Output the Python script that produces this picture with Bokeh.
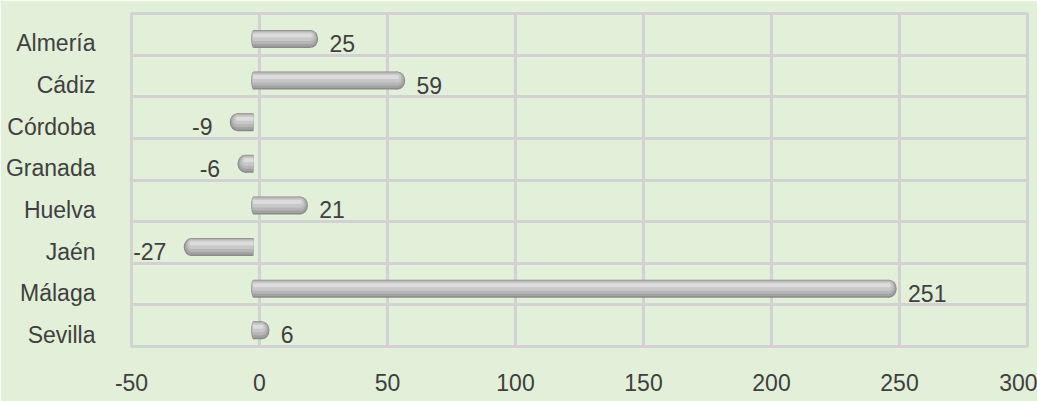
from bokeh.plotting import figure
from bokeh.models import ColumnDataSource, Range1d, FixedTicker
from bokeh.core.properties import value
from bokeh.transform import dodge
from bokeh.embed import file_html
from bokeh.resources import INLINE

categories = ["Almería", "Cádiz", "Córdoba", "Granada", "Huelva", "Jaén", "Málaga", "Sevilla"]
values = [25, 59, -9, -6, 21, -27, 251, 6]
x_ticks = [-50, 0, 50, 100, 150, 200, 250, 300]

FONT = "Liberation Sans"
TXT = "#404040"
BG = "#e2efd9"
GRID = "#d2d2d2"

W, H = 1037, 401
BL, BR, BT, BB = 131, 10, 13, 55
xmin, xmax = -50, 300
upp = (xmax - xmin) / (W - BL - BR)  # data units per pixel
row_px = (H - BT - BB) / len(categories)

p = figure(width=W, height=H, output_backend="svg", toolbar_location=None,
           x_range=Range1d(xmin, xmax), y_range=Range1d(len(categories), 0),
           min_border_left=BL, min_border_right=BR, min_border_top=BT, min_border_bottom=BB)
p.background_fill_color = BG
p.border_fill_color = BG
p.outline_line_color = GRID
p.outline_line_width = 3

# grids
p.xgrid.ticker = FixedTicker(ticks=x_ticks)
p.xgrid.grid_line_color = GRID
p.xgrid.grid_line_width = 3
p.ygrid.ticker = FixedTicker(ticks=list(range(len(categories) + 1)))
p.ygrid.grid_line_color = GRID
p.ygrid.grid_line_width = 3

# axes
label_pos = [i + 0.72 for i in range(len(categories))]
p.xaxis.ticker = FixedTicker(ticks=x_ticks)
p.xaxis.major_label_overrides = {t: str(t) for t in x_ticks}
p.yaxis.ticker = FixedTicker(ticks=label_pos)
p.yaxis.major_label_overrides = {pos: c for pos, c in zip(label_pos, categories)}
for ax in (p.xaxis[0], p.yaxis[0]):
    ax.axis_line_color = None
    ax.major_tick_line_color = None
    ax.minor_tick_line_color = None
    ax.major_tick_out = 0
    ax.major_tick_in = 0
    ax.major_label_text_font = FONT
    ax.major_label_text_font_size = "23px"
    ax.major_label_text_color = TXT
p.xaxis.major_label_standoff = 27
p.yaxis.major_label_standoff = 36

# bar geometry derived from the data
shift = -6 * upp           # 3D depth offset
cap_half = 7 * upp
ys, lefts, rights, capx, lx, ly, txt, align, xoff = [], [], [], [], [], [], [], [], []
for i, v in enumerate(values):
    s = 1 if v >= 0 else -1
    end = v + shift
    start = 0 + shift
    cx = end - s * cap_half
    ys.append(i + 0.61)
    lefts.append(min(start, cx))
    rights.append(max(start, cx))
    capx.append(cx)
    lx.append(v)
    ly.append(i + 0.72)
    txt.append(str(v))
    align.append("left" if v >= 0 else "right")
    xoff.append(6 if v >= 0 else -24)

src = ColumnDataSource(dict(y=ys, left=lefts, right=rights, capx=capx,
                            lx=lx, ly=ly, txt=txt, align=align, xoff=xoff))

layers = [  # (height px, y-offset px, color)
    (18, 0, "#8a8a8a"),
    (16, -0.5, "#a2a2a2"),
    (13, -1.5, "#b6b6b6"),
    (9, -2.5, "#c8c8c8"),
    (4, -3.5, "#dcdcdc"),
]
for hpx, off, col in layers:
    hb = hpx / row_px
    yv = dodge("y", off / row_px, range=p.y_range)
    p.hbar(y=yv, left="left", right="right", height=hb, source=src,
           fill_color=col, line_color=None)
    p.ellipse(x="capx", y=yv, width=hpx * 0.85, height=hpx, width_units="screen",
              height_units="screen", source=src, fill_color=col, line_color=None)
    p.ellipse(x="left", y=yv, width=hpx * 0.25, height=hpx, width_units="screen",
              height_units="screen", source=src, fill_color=col, line_color=None)

p.text(x="lx", y="ly", text="txt", source=src, text_align="align", x_offset="xoff",
       text_baseline="middle", text_font=value(FONT), text_font_size="23px",
       text_color=TXT)

open("out.html", "w").write(file_html(p, INLINE))
